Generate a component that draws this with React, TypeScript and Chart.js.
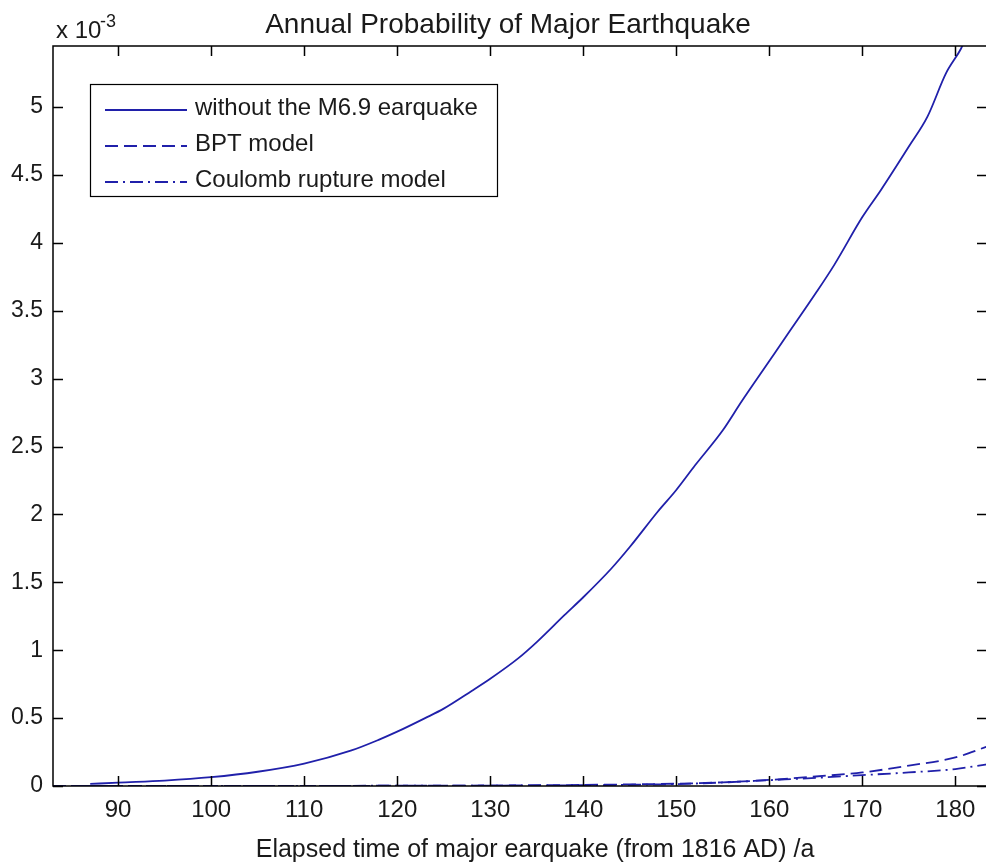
import React, { useEffect, useRef } from "react";
import { Chart, registerables } from "chart.js";

Chart.register(...registerables);

// ---- data (probabilities in units of 1e-3) ----
const mainX = [87, 90, 95, 100, 105, 110, 115, 118, 120, 123, 125, 128, 130, 133, 135, 138, 140, 143, 145, 148, 150, 152, 155, 157, 160, 162, 165, 167, 170, 172, 175, 177, 179, 180.6, 181.2];
const mainY = [0.015, 0.025, 0.04, 0.065, 0.105, 0.165, 0.26, 0.34, 0.4, 0.5, 0.57, 0.7, 0.79, 0.94, 1.06, 1.26, 1.39, 1.6, 1.76, 2.02, 2.18, 2.36, 2.62, 2.83, 3.13, 3.33, 3.63, 3.84, 4.19, 4.39, 4.71, 4.93, 5.25, 5.43, 5.52];

const bptX = [83, 90, 100, 110, 120, 130, 140, 145, 150, 155, 160, 165, 170, 175, 180, 183.4];
const bptY = [0, 0, 0, 0.001, 0.002, 0.004, 0.008, 0.012, 0.017, 0.027, 0.045, 0.07, 0.1, 0.15, 0.21, 0.29];

const coulX = [83, 90, 100, 110, 120, 130, 140, 145, 150, 155, 160, 165, 170, 175, 180, 183.4];
const coulY = [0, 0, 0, 0.001, 0.002, 0.003, 0.006, 0.009, 0.014, 0.026, 0.043, 0.06, 0.08, 0.1, 0.125, 0.16];

const seriesNames = ["without the M6.9 earquake", "BPT model", "Coulomb rupture model"];
const titleText = "Annual Probability of Major Earthquake";
const xLabelText = "Elapsed time of major earquake (from 1816 AD) /a";
const xMin = 83;
const xMax = 183.4;
const yMin = 0;
const yMax = 5.45;
const xStep = 10;
const yStep = 0.5;

const LINE_COLOR = "#2020aa";
const TEXT_COLOR = "#1a1a1a";
const FONT = '"Liberation Sans", Arial, sans-serif';
const dashes: number[][] = [[], [13, 6], [13, 5, 2, 5]];

const pairs = (xs: number[], ys: number[]) => xs.map((x, i) => ({ x, y: ys[i] }));

const matlabPlugin = {
  id: "matlabFrame",
  afterDraw(chart: any) {
    const { ctx, chartArea, scales } = chart;
    const { left, right, top, bottom } = chartArea;
    ctx.save();
    // frame
    ctx.strokeStyle = "#000";
    ctx.lineWidth = 1.5;
    ctx.setLineDash([]);
    ctx.strokeRect(left, top, right - left, bottom - top);
    // inner ticks
    const tl = 10;
    ctx.beginPath();
    scales.x.ticks.forEach((t: any) => {
      const px = Math.round(scales.x.getPixelForValue(t.value)) + 0.5;
      ctx.moveTo(px, bottom);
      ctx.lineTo(px, bottom - tl);
      ctx.moveTo(px, top);
      ctx.lineTo(px, top + tl);
    });
    scales.y.ticks.forEach((t: any) => {
      const py = Math.round(scales.y.getPixelForValue(t.value)) + 0.5;
      ctx.moveTo(left, py);
      ctx.lineTo(left + tl, py);
      ctx.moveTo(right, py);
      ctx.lineTo(right - tl, py);
    });
    ctx.stroke();

    // title
    ctx.fillStyle = TEXT_COLOR;
    ctx.font = `28px ${FONT}`;
    ctx.textAlign = "center";
    ctx.textBaseline = "alphabetic";
    ctx.fillText(titleText, 508, 33);
    // x label
    ctx.font = `25px ${FONT}`;
    ctx.fillText(xLabelText, 535, 857);
    // exponent
    ctx.textAlign = "left";
    ctx.font = `24px ${FONT}`;
    ctx.fillText("x 10", 56, 38);
    ctx.font = `18px ${FONT}`;
    ctx.fillText("-3", 100, 27);

    // legend
    const lx = 90.5, ly = 84.5, lw = 407, lh = 112;
    ctx.fillStyle = "#fff";
    ctx.fillRect(lx, ly, lw, lh);
    ctx.strokeStyle = "#000";
    ctx.lineWidth = 1.2;
    ctx.strokeRect(lx, ly, lw, lh);
    const rows = [108, 144, 180];
    seriesNames.forEach((name, i) => {
      ctx.strokeStyle = LINE_COLOR;
      ctx.lineWidth = 1.8;
      ctx.setLineDash(dashes[i]);
      ctx.beginPath();
      ctx.moveTo(105, rows[i] + 2);
      ctx.lineTo(187, rows[i] + 2);
      ctx.stroke();
      ctx.setLineDash([]);
      ctx.fillStyle = TEXT_COLOR;
      ctx.font = `24px ${FONT}`;
      ctx.textBaseline = "middle";
      ctx.fillText(name, 195, rows[i]);
    });
    ctx.restore();
  },
};

export default function App() {
  const ref = useRef<HTMLCanvasElement | null>(null);
  useEffect(() => {
    if (!ref.current) return;
    const common = { borderColor: LINE_COLOR, borderWidth: 1.8, pointRadius: 0, cubicInterpolationMode: "monotone" as const };
    const chart = new Chart(ref.current, {
      type: "line",
      data: {
        datasets: [
          { label: seriesNames[0], data: pairs(mainX, mainY), borderDash: dashes[0], ...common },
          { label: seriesNames[1], data: pairs(bptX, bptY), borderDash: dashes[1], ...common },
          { label: seriesNames[2], data: pairs(coulX, coulY), borderDash: dashes[2], ...common },
        ],
      },
      options: {
        animation: false,
        responsive: false,
        maintainAspectRatio: false,
        layout: { padding: { top: 46, left: 0, right: 3, bottom: 0 } },
        plugins: { legend: { display: false }, title: { display: false }, tooltip: { enabled: false } },
        scales: {
          x: {
            type: "linear",
            min: xMin,
            max: xMax,
            grid: { display: false, drawTicks: false },
            border: { display: false },
            ticks: {
              stepSize: xStep,
              includeBounds: false,
              autoSkip: false,
              maxRotation: 0,
              padding: 10,
              color: TEXT_COLOR,
              font: { family: FONT, size: 24 },
            },
            afterFit: (s: any) => { s.height = 77; },
          },
          y: {
            type: "linear",
            min: yMin,
            max: yMax,
            grid: { display: false, drawTicks: false },
            border: { display: false },
            ticks: {
              stepSize: yStep,
              includeBounds: false,
              autoSkip: false,
              padding: 10,
              color: TEXT_COLOR,
              font: { family: FONT, size: 23 },
              callback: (v: any) => String(Math.round(Number(v) * 10) / 10),
            },
            afterFit: (s: any) => { s.width = 53; },
          },
        },
      },
      plugins: [matlabPlugin],
    });
    return () => chart.destroy();
  }, []);
  return (
    <div style={{ position: "absolute", left: 0, top: 0, width: 986, height: 863, overflow: "hidden", background: "#fff" }}>
      <canvas ref={ref} width={990} height={863} style={{ width: 990, height: 863, display: "block" }} />
    </div>
  );
}
